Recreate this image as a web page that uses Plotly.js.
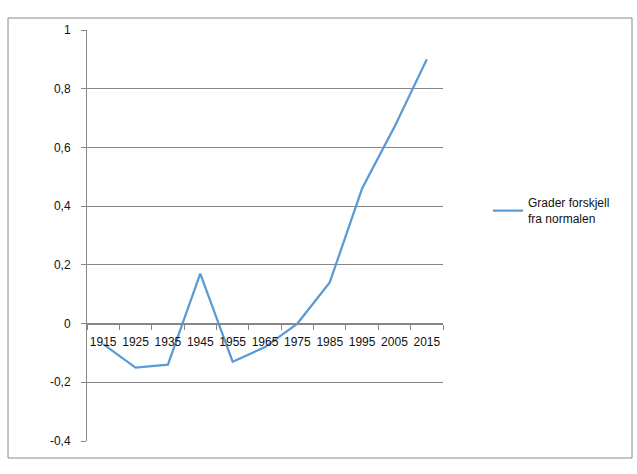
<!DOCTYPE html>
<html>
<head>
<meta charset="utf-8">
<script src="https://cdn.plot.ly/plotly-3.0.1.min.js"></script>
<style>html,body{margin:0;padding:0;background:#fff;}#chart{width:637px;height:474px;}</style>
</head>
<body>
<div id="chart"></div>
<script>
const years = ['1915','1925','1935','1945','1955','1965','1975','1985','1995','2005','2015'];
const gradeDiff = [-0.07, -0.15, -0.14, 0.17, -0.13, -0.08, 0.0, 0.14, 0.46, 0.67, 0.90];
const seriesName = 'Grader forskjell<br>fra normalen';
const yTickVals = [-0.4, -0.2, 0, 0.2, 0.4, 0.6, 0.8, 1];
const yTickLabels = ['-0,4', '-0,2', '0', '0,2', '0,4', '0,6', '0,8', '1'];
const yRange = [-0.4, 1];

const axisColor = '#868686';
const L = 87, R = 443, T = 30, B = 441, W = 637, H = 474;
const pw = R - L, ph = B - T;
const px = v => (v - L) / pw;
const py = v => (B - v) / ph;

const trace = {
  x: years, y: gradeDiff, type: 'scatter', mode: 'lines',
  name: seriesName,
  line: {color: '#5B9BD5', width: 2.25},
  hoverinfo: 'skip'
};

const layout = {
  width: W, height: H,
  margin: {l: L, r: W - R, t: T, b: H - B, pad: 0},
  paper_bgcolor: '#fff', plot_bgcolor: '#fff',
  font: {family: 'Liberation Sans, Arial, sans-serif', size: 12, color: '#111'},
  showlegend: true,
  legend: {
    x: px(488), y: py(211), xanchor: 'left', yanchor: 'middle',
    font: {size: 12, color: '#111'}, bgcolor: 'rgba(0,0,0,0)',
    itemwidth: 30, tracegroupgap: 0
  },
  xaxis: {
    type: 'category',
    range: [-0.5, years.length - 0.5],
    anchor: 'free',
    position: (0 - yRange[0]) / (yRange[1] - yRange[0]),
    showline: true, linecolor: axisColor, linewidth: 1,
    ticks: 'outside', ticklen: 5, tickcolor: axisColor, tickwidth: 1,
    tickson: 'boundaries',
    tickangle: 0,
    ticklabelstandoff: 7,
    showgrid: false, zeroline: false,
    tickfont: {size: 12, color: '#111'},
    fixedrange: true
  },
  yaxis: {
    range: yRange, domain: [0, 1],
    tickvals: yTickVals, ticktext: yTickLabels,
    showline: true, linecolor: axisColor, linewidth: 1,
    ticks: 'outside', ticklen: 5, tickcolor: axisColor, tickwidth: 1,
    ticklabelstandoff: 8,
    showgrid: true, gridcolor: axisColor, gridwidth: 1,
    zeroline: false,
    tickfont: {size: 12, color: '#111'},
    fixedrange: true
  },
  shapes: [{
    type: 'rect', xref: 'paper', yref: 'paper',
    x0: px(8), x1: px(632), y0: py(458), y1: py(18),
    line: {color: '#8a8a8a', width: 1}, fillcolor: 'rgba(0,0,0,0)', layer: 'below'
  }]
};

Plotly.newPlot('chart', [trace], layout, {staticPlot: true, displayModeBar: false});
</script>
</body>
</html>
